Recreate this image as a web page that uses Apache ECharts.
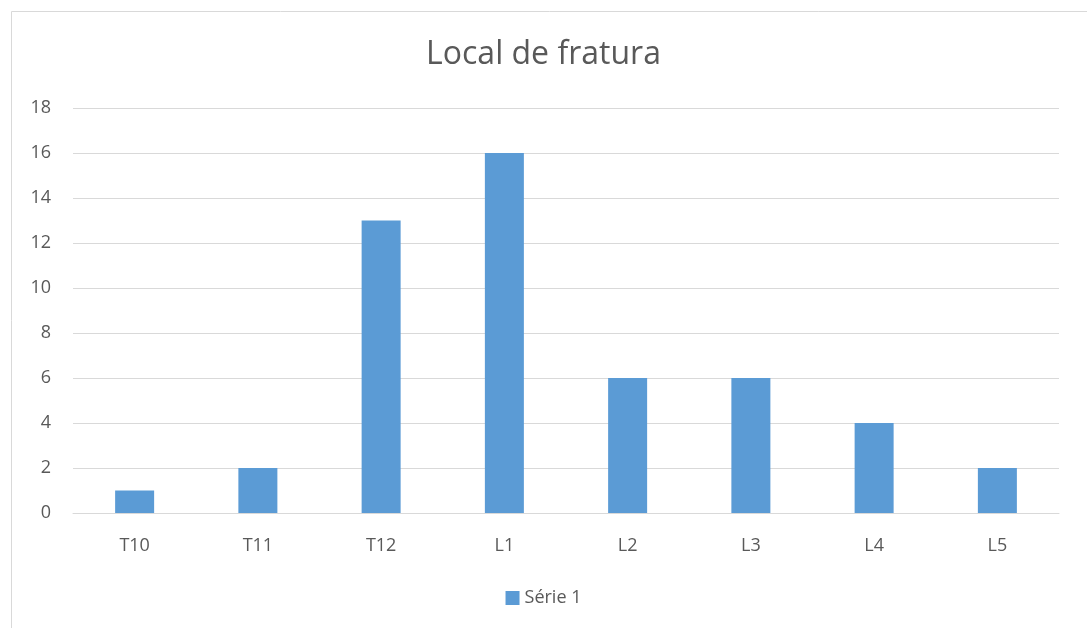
<!DOCTYPE html>
<html>
<head>
<meta charset="utf-8">
<script src="https://cdn.jsdelivr.net/npm/echarts@6/dist/echarts.min.js"></script>
<style>
  html, body { margin: 0; padding: 0; background: #fff; }
  #main { width: 1087px; height: 628px; }
</style>
</head>
<body>
<div id="main"></div>
<script>
// 数据
var categories = ["T10", "T11", "T12", "L1", "L2", "L3", "L4", "L5"];
var serie1 = [1, 2, 13, 16, 6, 6, 4, 2];
var seriesName = "Série 1";
var titleText = "Local de fratura";

(function () {
  var myChart = echarts.init(document.getElementById("main"));
  var textColor = "#595959";
  var option = {
    animation: false,
    color: ["#5b9bd5"],
    textStyle: { fontFamily: "Open Sans" },
    // 外框
    graphic: [{
      type: "rect",
      left: 9, top: 9,
      shape: { width: 1100, height: 640 },
      style: { fill: "none", stroke: "#d9d9d9", lineWidth: 1 }
    }],
    title: {
      text: titleText,
      left: "center",
      top: 34,
      textStyle: { color: textColor, fontSize: 32, fontWeight: "normal", fontFamily: "Open Sans" }
    },
    legend: {
      bottom: 16,
      left: "center",
      itemWidth: 14,
      itemHeight: 14,
      itemGap: 8,
      icon: "rect",
      textStyle: { color: textColor, fontSize: 18 }
    },
    grid: {
      left: 73,
      right: 28,
      top: 108,
      bottom: 115
    },
    xAxis: {
      type: "category",
      data: categories,
      axisTick: { show: false },
      axisLine: { lineStyle: { color: "#d9d9d9", width: 1 } },
      axisLabel: { color: textColor, fontSize: 18, margin: 24 }
    },
    yAxis: {
      type: "value",
      min: 0,
      max: 18,
      interval: 2,
      axisLine: { show: false },
      axisTick: { show: false },
      axisLabel: { color: textColor, fontSize: 18, margin: 22 },
      splitLine: { lineStyle: { color: "#d9d9d9", width: 1 } }
    },
    series: [{
      name: seriesName,
      type: "bar",
      barWidth: 39,
      data: serie1
    }]
  };
  myChart.setOption(option);
  window.addEventListener("resize", function () {
    myChart.resize();
  });
})();
</script>
</body>
</html>
